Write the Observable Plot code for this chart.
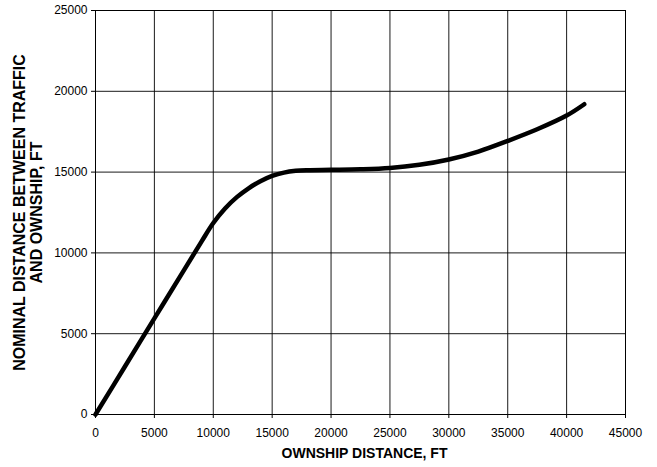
<!DOCTYPE html>
<html><head><meta charset="utf-8">
<script src="https://cdn.jsdelivr.net/npm/d3@7"></script>
<script src="https://cdn.jsdelivr.net/npm/@observablehq/plot@0.6"></script>
<style>
body{margin:0;background:#fff}
</style>
</head><body><div id="chart"></div>
<script>
const ownship = [0, 2500, 5000, 7500, 9000, 10000, 11000, 12000, 13000, 14000, 15000, 16000, 17000, 18000, 20000, 22500, 25000, 27500, 30000, 32500, 35000, 37500, 40000, 41500];
const nominal = [0, 2970, 5950, 8920, 10700, 11850, 12750, 13450, 14000, 14430, 14760, 14970, 15080, 15120, 15140, 15170, 15250, 15450, 15780, 16270, 16930, 17650, 18500, 19200];
const xTicks = [0, 5000, 10000, 15000, 20000, 25000, 30000, 35000, 40000, 45000];
const yTicks = [0, 5000, 10000, 15000, 20000, 25000];
const xLabel = "OWNSHIP DISTANCE, FT";
const yLabel = "NOMINAL DISTANCE BETWEEN TRAFFIC\nAND OWNSHIP, FT";

const data = ownship.map((x, i) => ({x, y: nominal[i]}));
const fmt = d => String(d);

const chart = Plot.plot({
  width: 657, height: 467,
  marginLeft: 95, marginRight: 32, marginTop: 10, marginBottom: 53,
  style: {fontFamily: "'Liberation Sans', Arial, sans-serif", fontSize: "12px", background: "#fff", color: "#000"},
  x: {domain: [0, 45000]},
  y: {domain: [0, 25000]},
  marks: [
    Plot.gridX(xTicks, {stroke: "#000", strokeOpacity: 0.9}),
    Plot.gridY(yTicks, {stroke: "#000", strokeOpacity: 0.9}),
    Plot.frame({stroke: "#000"}),
    Plot.axisX(xTicks, {tickSize: 4, tickPadding: 10, tickFormat: fmt, label: null, fontSize: 12}),
    Plot.axisY(yTicks, {tickSize: 4, tickPadding: 4, tickFormat: fmt, label: null, fontSize: 12}),
    Plot.line(data, {x: "x", y: "y", stroke: "#000", strokeWidth: 4.5, curve: "catmull-rom", strokeLinecap: "round"}),
    Plot.text([xLabel], {frameAnchor: "bottom", dy: 43.5, dx: 4, fontWeight: "bold", fontSize: 14, textAnchor: "middle"}),
    Plot.text([yLabel], {frameAnchor: "left", dx: -67.5, rotate: -90, textAnchor: "middle", fontWeight: "bold", fontSize: 16, lineHeight: 1.06})
  ]
});
document.getElementById("chart").appendChild(chart);
</script>
</body></html>
